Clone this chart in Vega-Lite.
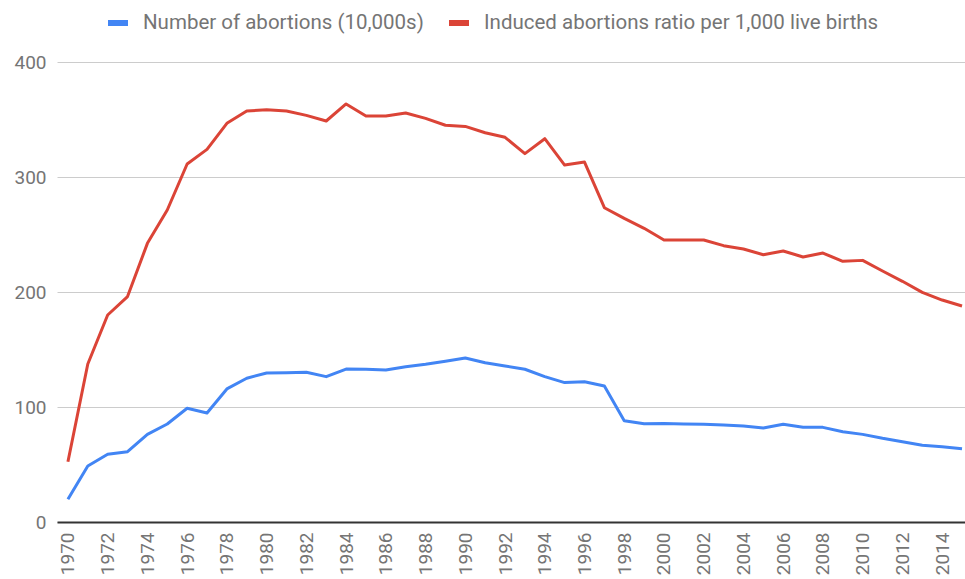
{
  "$schema": "https://vega.github.io/schema/vega-lite/v6.json",
  "width": 908,
  "height": 460,
  "autosize": {"type": "none"},
  "padding": {"left": 57, "top": 62, "right": 0, "bottom": 57},
  "background": "white",
  "config": {
    "font": "Roboto",
    "view": {"stroke": null}
  },
  "data": {
    "values": [
      {"year": 1970, "series": "Number of abortions (10,000s)", "value": 19.7},
      {"year": 1971, "series": "Number of abortions (10,000s)", "value": 48.7},
      {"year": 1972, "series": "Number of abortions (10,000s)", "value": 58.9},
      {"year": 1973, "series": "Number of abortions (10,000s)", "value": 61.1},
      {"year": 1974, "series": "Number of abortions (10,000s)", "value": 76.2},
      {"year": 1975, "series": "Number of abortions (10,000s)", "value": 85.2},
      {"year": 1976, "series": "Number of abortions (10,000s)", "value": 98.9},
      {"year": 1977, "series": "Number of abortions (10,000s)", "value": 94.8},
      {"year": 1978, "series": "Number of abortions (10,000s)", "value": 115.7},
      {"year": 1979, "series": "Number of abortions (10,000s)", "value": 125.0},
      {"year": 1980, "series": "Number of abortions (10,000s)", "value": 129.6},
      {"year": 1981, "series": "Number of abortions (10,000s)", "value": 129.8},
      {"year": 1982, "series": "Number of abortions (10,000s)", "value": 130.2},
      {"year": 1983, "series": "Number of abortions (10,000s)", "value": 126.4},
      {"year": 1984, "series": "Number of abortions (10,000s)", "value": 133.0},
      {"year": 1985, "series": "Number of abortions (10,000s)", "value": 132.8},
      {"year": 1986, "series": "Number of abortions (10,000s)", "value": 132.2},
      {"year": 1987, "series": "Number of abortions (10,000s)", "value": 135.0},
      {"year": 1988, "series": "Number of abortions (10,000s)", "value": 137.1},
      {"year": 1989, "series": "Number of abortions (10,000s)", "value": 139.7},
      {"year": 1990, "series": "Number of abortions (10,000s)", "value": 142.6},
      {"year": 1991, "series": "Number of abortions (10,000s)", "value": 138.5},
      {"year": 1992, "series": "Number of abortions (10,000s)", "value": 135.7},
      {"year": 1993, "series": "Number of abortions (10,000s)", "value": 132.8},
      {"year": 1994, "series": "Number of abortions (10,000s)", "value": 126.4},
      {"year": 1995, "series": "Number of abortions (10,000s)", "value": 121.2},
      {"year": 1996, "series": "Number of abortions (10,000s)", "value": 122.0},
      {"year": 1997, "series": "Number of abortions (10,000s)", "value": 118.3},
      {"year": 1998, "series": "Number of abortions (10,000s)", "value": 88.1},
      {"year": 1999, "series": "Number of abortions (10,000s)", "value": 85.5},
      {"year": 2000, "series": "Number of abortions (10,000s)", "value": 85.6},
      {"year": 2001, "series": "Number of abortions (10,000s)", "value": 85.2},
      {"year": 2002, "series": "Number of abortions (10,000s)", "value": 85.0},
      {"year": 2003, "series": "Number of abortions (10,000s)", "value": 84.3},
      {"year": 2004, "series": "Number of abortions (10,000s)", "value": 83.5},
      {"year": 2005, "series": "Number of abortions (10,000s)", "value": 81.7},
      {"year": 2006, "series": "Number of abortions (10,000s)", "value": 85.0},
      {"year": 2007, "series": "Number of abortions (10,000s)", "value": 82.3},
      {"year": 2008, "series": "Number of abortions (10,000s)", "value": 82.3},
      {"year": 2009, "series": "Number of abortions (10,000s)", "value": 78.5},
      {"year": 2010, "series": "Number of abortions (10,000s)", "value": 76.2},
      {"year": 2011, "series": "Number of abortions (10,000s)", "value": 72.8},
      {"year": 2012, "series": "Number of abortions (10,000s)", "value": 69.8},
      {"year": 2013, "series": "Number of abortions (10,000s)", "value": 66.7},
      {"year": 2014, "series": "Number of abortions (10,000s)", "value": 65.5},
      {"year": 2015, "series": "Number of abortions (10,000s)", "value": 63.7},
      {"year": 1970, "series": "Induced abortions ratio per 1,000 live births", "value": 52.4},
      {"year": 1971, "series": "Induced abortions ratio per 1,000 live births", "value": 137.4},
      {"year": 1972, "series": "Induced abortions ratio per 1,000 live births", "value": 180.0},
      {"year": 1973, "series": "Induced abortions ratio per 1,000 live births", "value": 196.0},
      {"year": 1974, "series": "Induced abortions ratio per 1,000 live births", "value": 242.3},
      {"year": 1975, "series": "Induced abortions ratio per 1,000 live births", "value": 271.3},
      {"year": 1976, "series": "Induced abortions ratio per 1,000 live births", "value": 311.3},
      {"year": 1977, "series": "Induced abortions ratio per 1,000 live births", "value": 324.0},
      {"year": 1978, "series": "Induced abortions ratio per 1,000 live births", "value": 346.7},
      {"year": 1979, "series": "Induced abortions ratio per 1,000 live births", "value": 357.4},
      {"year": 1980, "series": "Induced abortions ratio per 1,000 live births", "value": 358.5},
      {"year": 1981, "series": "Induced abortions ratio per 1,000 live births", "value": 357.4},
      {"year": 1982, "series": "Induced abortions ratio per 1,000 live births", "value": 353.6},
      {"year": 1983, "series": "Induced abortions ratio per 1,000 live births", "value": 348.7},
      {"year": 1984, "series": "Induced abortions ratio per 1,000 live births", "value": 363.5},
      {"year": 1985, "series": "Induced abortions ratio per 1,000 live births", "value": 353.0},
      {"year": 1986, "series": "Induced abortions ratio per 1,000 live births", "value": 353.0},
      {"year": 1987, "series": "Induced abortions ratio per 1,000 live births", "value": 355.7},
      {"year": 1988, "series": "Induced abortions ratio per 1,000 live births", "value": 351.0},
      {"year": 1989, "series": "Induced abortions ratio per 1,000 live births", "value": 345.0},
      {"year": 1990, "series": "Induced abortions ratio per 1,000 live births", "value": 344.0},
      {"year": 1991, "series": "Induced abortions ratio per 1,000 live births", "value": 338.5},
      {"year": 1992, "series": "Induced abortions ratio per 1,000 live births", "value": 334.5},
      {"year": 1993, "series": "Induced abortions ratio per 1,000 live births", "value": 320.3},
      {"year": 1994, "series": "Induced abortions ratio per 1,000 live births", "value": 333.3},
      {"year": 1995, "series": "Induced abortions ratio per 1,000 live births", "value": 310.4},
      {"year": 1996, "series": "Induced abortions ratio per 1,000 live births", "value": 313.0},
      {"year": 1997, "series": "Induced abortions ratio per 1,000 live births", "value": 273.3},
      {"year": 1998, "series": "Induced abortions ratio per 1,000 live births", "value": 264.0},
      {"year": 1999, "series": "Induced abortions ratio per 1,000 live births", "value": 255.4},
      {"year": 2000, "series": "Induced abortions ratio per 1,000 live births", "value": 245.2},
      {"year": 2001, "series": "Induced abortions ratio per 1,000 live births", "value": 245.2},
      {"year": 2002, "series": "Induced abortions ratio per 1,000 live births", "value": 245.2},
      {"year": 2003, "series": "Induced abortions ratio per 1,000 live births", "value": 240.3},
      {"year": 2004, "series": "Induced abortions ratio per 1,000 live births", "value": 237.4},
      {"year": 2005, "series": "Induced abortions ratio per 1,000 live births", "value": 232.4},
      {"year": 2006, "series": "Induced abortions ratio per 1,000 live births", "value": 235.7},
      {"year": 2007, "series": "Induced abortions ratio per 1,000 live births", "value": 230.4},
      {"year": 2008, "series": "Induced abortions ratio per 1,000 live births", "value": 233.9},
      {"year": 2009, "series": "Induced abortions ratio per 1,000 live births", "value": 226.7},
      {"year": 2010, "series": "Induced abortions ratio per 1,000 live births", "value": 227.5},
      {"year": 2011, "series": "Induced abortions ratio per 1,000 live births", "value": 218.3},
      {"year": 2012, "series": "Induced abortions ratio per 1,000 live births", "value": 209.3},
      {"year": 2013, "series": "Induced abortions ratio per 1,000 live births", "value": 199.7},
      {"year": 2014, "series": "Induced abortions ratio per 1,000 live births", "value": 193.0},
      {"year": 2015, "series": "Induced abortions ratio per 1,000 live births", "value": 187.8}
    ]
  },
  "mark": {"type": "line", "strokeWidth": 3, "strokeJoin": "round", "clip": false},
  "encoding": {
    "x": {
      "field": "year",
      "type": "quantitative",
      "scale": {"domain": [1969.45, 2015.15], "nice": false, "zero": false},
      "axis": {
        "title": null,
        "values": [1970, 1972, 1974, 1976, 1978, 1980, 1982, 1984, 1986, 1988, 1990, 1992, 1994, 1996, 1998, 2000, 2002, 2004, 2006, 2008, 2010, 2012, 2014],
        "format": "d",
        "labelAngle": -90,
        "labelAlign": "right",
        "labelBaseline": "middle",
        "labelFontSize": 19,
        "labelColor": "#757575",
        "labelPadding": 10,
        "labelFlush": false,
        "labelOverlap": false,
        "ticks": false,
        "grid": false,
        "domain": true,
        "domainColor": "#333333",
        "domainWidth": 2
      }
    },
    "y": {
      "field": "value",
      "type": "quantitative",
      "scale": {"domain": [0, 400], "nice": false},
      "axis": {
        "title": null,
        "values": [0, 100, 200, 300, 400],
        "labelFontSize": 19,
        "labelColor": "#757575",
        "labelPadding": 11,
        "ticks": false,
        "domain": false,
        "grid": true,
        "gridColor": "#cccccc",
        "gridWidth": 1
      }
    },
    "color": {
      "field": "series",
      "type": "nominal",
      "sort": ["Number of abortions (10,000s)", "Induced abortions ratio per 1,000 live births"],
      "scale": {
        "domain": ["Number of abortions (10,000s)", "Induced abortions ratio per 1,000 live births"],
        "range": ["#4285F4", "#DB4437"]
      },
      "legend": {
        "title": null,
        "orient": "none",
        "direction": "horizontal",
        "legendX": 48,
        "legendY": -52,
        "symbolType": "stroke",
        "symbolSize": 400,
        "symbolStrokeWidth": 6,
        "labelFontSize": 20.5,
        "labelColor": "#757575",
        "labelOffset": 12,
        "columnPadding": 13,
        "padding": 0,
        "labelLimit": 600
      }
    }
  }
}
